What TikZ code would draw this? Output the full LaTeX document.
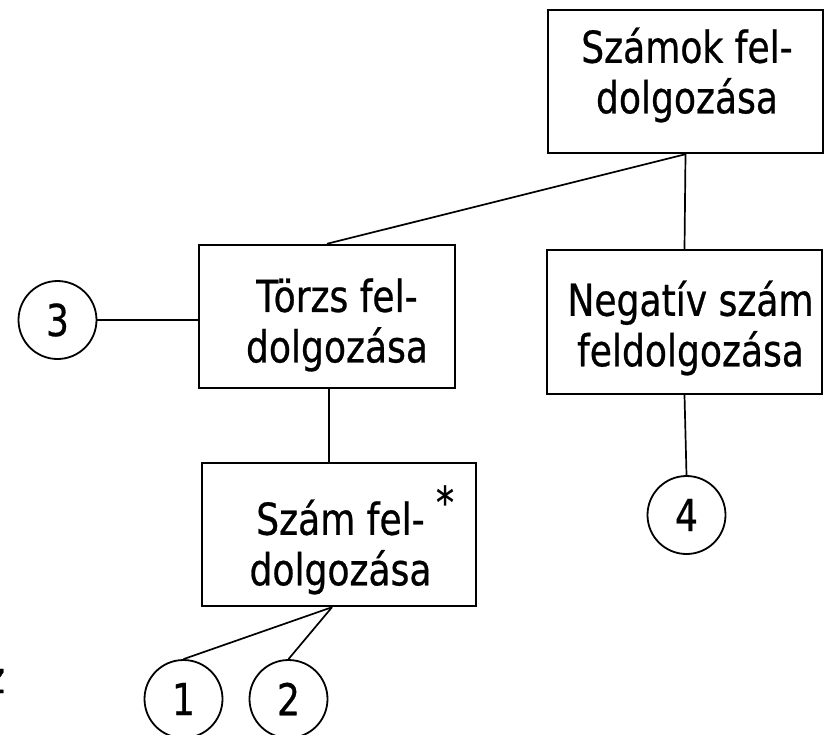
\documentclass[tikz,border=0pt]{standalone}
\usepackage{fontspec}
\setmainfont[FakeStretch=0.82,FakeBold=0.6]{DejaVu Sans}
\begin{document}
\begin{tikzpicture}[x=1pt,y=-1pt,
  box/.style={draw, line width=2.4pt, minimum width=#1, minimum height=143pt, inner sep=0pt},
  lbl/.style={font=\fontsize{44}{50.5}\selectfont, align=center, inner sep=0pt},
  circ/.style={draw, circle, line width=1.8pt, minimum size=78pt, inner sep=0pt, font=\fontsize{44}{50.5}\selectfont},
  conn/.style={line width=1.7pt}]
\useasboundingbox (0,0) rectangle (829,734);
% boxes
\node[box=275pt] (top) at (685.5,81.5) {};
\node[box=256pt] (torzs) at (327,316.5) {};
\node[box=275pt, minimum height=144pt] (neg) at (684.5,322) {};
\node[box=274pt] (szam) at (339,534.5) {};
% labels
\node[lbl] (toptxt) at (687,75) {Számok fel-\\dolgozása};
\node[lbl] (torzstxt) at (337,325) {Törzs fel-\\dolgozása};
\node[lbl] (negtxt) at (690.5,328) {Negatív szám\\feldolgozása};
\node[lbl] (szamtxt) at (340.5,547) {Szám fel-\\dolgozása};
\node[lbl, anchor=base] (star) at (445,518) {*};
% circles
\node[circ] (c3) at (57.5,320) {3};
\node[circ] (c4) at (686.5,515) {4};
\node[circ] (c1) at (183.5,699) {1};
\node[circ] (c2) at (288.5,699) {2};
% clipped letter at left edge
\node[lbl, anchor=base east] (zz) at (5,693) {z};
% connectors
\draw[conn] (top.south) -- (neg.north);
\draw[conn] (top.south) -- (torzs.north);
\draw[conn] (c3.east) -- (c3.east -| torzs.west);
\draw[conn] ([xshift=2pt]torzs.south) -- ([xshift=2pt]torzs.south |- szam.north);
\draw[conn] (neg.south) -- (c4.north);
\draw[conn] ([xshift=-7pt]szam.south) -- (c1.north);
\draw[conn] ([xshift=-7pt]szam.south) -- (c2.north);
\end{tikzpicture}
\end{document}
